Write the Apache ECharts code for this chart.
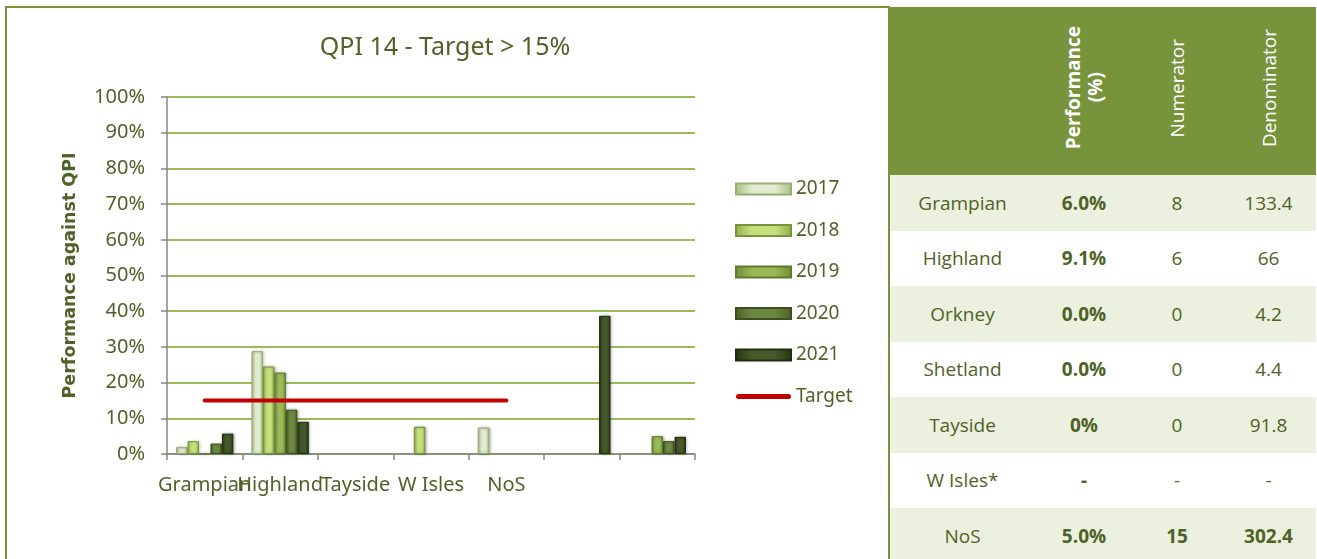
<!DOCTYPE html>
<html>
<head>
<meta charset="utf-8">
<script src="https://cdn.jsdelivr.net/npm/echarts@6/dist/echarts.min.js"></script>
<style>
  body { margin: 0; background: #fff; width: 1317px; height: 559px; overflow: hidden; position: relative; font-family: "Open Sans", sans-serif; }
  #frame { position: absolute; left: 5px; top: 6px; width: 885px; height: 570px; border: 2px solid #76923c; border-bottom: none; box-sizing: border-box; }
  #chart { position: absolute; left: 0; top: 0; width: 890px; height: 559px; }
  #qpi-table { position: absolute; left: 890px; top: 7px; width: 426px; border-collapse: collapse; table-layout: fixed; color: #4f6228; font-size: 19px; }
  #qpi-table th { background: #77933c; height: 168px; padding: 0; color: #fff; font-weight: normal; vertical-align: middle; }
  #qpi-table th .rot { writing-mode: vertical-rl; transform: rotate(180deg); display: inline-block; text-align: center; line-height: 22px; }
  #qpi-table th.bold .rot { font-weight: bold; }
  #qpi-table td { height: 55.5px; padding: 0; text-align: center; }
  #qpi-table tr:nth-child(odd) td { background: #ebf1de; }
  #qpi-table td.b { font-weight: bold; }
</style>
</head>
<body>
<div id="frame"></div>
<div id="chart"></div>
<table id="qpi-table">
  <colgroup><col style="width:145px"><col style="width:98px"><col style="width:88px"><col style="width:95px"></colgroup>
  <thead><tr>
    <th></th>
    <th class="bold"><span class="rot">Performance<br>(%)</span></th>
    <th><span class="rot">Numerator</span></th>
    <th><span class="rot">Denominator</span></th>
  </tr></thead>
  <tbody id="rows"></tbody>
</table>
<script>
// chart data (percent)
const categories = ["Grampian", "Highland", "Tayside", "W Isles", "NoS", " ", "  "];
const years = ["2017", "2018", "2019", "2020", "2021"];
const v2017 = [1.9, 28.8, null, null, 7.4, null, null];
const v2018 = [3.6, 24.5, null, 7.6, null, null, null];
const v2019 = [0, 22.8, null, null, null, null, 5.0];
const v2020 = [2.9, 12.4, null, null, null, null, 3.6];
const v2021 = [5.7, 9.0, null, null, null, 38.7, 4.8];
const target = [15, 15, 15, 15, 15, null, null];

// table data
const regions = ["Grampian", "Highland", "Orkney", "Shetland", "Tayside", "W Isles*", "NoS"];
const performance = ["6.0%", "9.1%", "0.0%", "0.0%", "0%", "-", "5.0%"];
const numerators = ["8", "6", "0", "0", "0", "-", "15"];
const denominators = ["133.4", "66", "4.2", "4.4", "91.8", "-", "302.4"];

// edge / middle / border shades for the bevelled bars
const barShades = [
  ["#a9bf83", "#e2ecd0", "#98ad72"],
  ["#8fb045", "#c6e07d", "#77933c"],
  ["#6f8c35", "#9ab957", "#5f7a2c"],
  ["#4a5f25", "#6d8840", "#3d4f1e"],
  ["#2a3614", "#46592a", "#222c10"]
];
const yearValues = [v2017, v2018, v2019, v2020, v2021];

const tbody = document.getElementById("rows");
regions.forEach((r, i) => {
  const last = r === "NoS";
  const tr = document.createElement("tr");
  tr.innerHTML = "<td>" + r + "</td><td class='b'>" + performance[i] + "</td>" +
    "<td" + (last ? " class='b'" : "") + ">" + numerators[i] + "</td>" +
    "<td" + (last ? " class='b'" : "") + ">" + denominators[i] + "</td>";
  tbody.appendChild(tr);
});

const txt = "#4f6228";
const font = "Noto Sans";

const barSeries = years.map((y, i) => ({
  name: y,
  type: "bar",
  data: yearValues[i],
  barGap: "0%",
  barCategoryGap: "24%",
  itemStyle: {
    color: new echarts.graphic.LinearGradient(0, 0, 1, 0, [
      { offset: 0, color: barShades[i][0] },
      { offset: 0.3, color: barShades[i][1] },
      { offset: 0.7, color: barShades[i][1] },
      { offset: 1, color: barShades[i][0] }
    ]),
    borderColor: barShades[i][2],
    borderWidth: 1,
    shadowColor: "rgba(0,0,0,0.3)",
    shadowBlur: 3,
    shadowOffsetX: 1
  }
}));

const option = {
  animation: false,
  title: {
    text: "QPI 14 - Target > 15%",
    left: "center",
    top: 30,
    textStyle: { fontFamily: font, fontSize: 25, fontWeight: "normal", color: txt }
  },
  legend: {
    orient: "vertical",
    left: 735,
    top: 179,
    itemWidth: 55,
    itemHeight: 11,
    itemGap: 21.5,
    padding: 0,
    symbolKeepAspect: true,
    textStyle: { fontFamily: font, fontSize: 19, color: txt, lineHeight: 20 },
    data: years.map((y) => ({ name: y, icon: "rect" })).concat([{
      name: "Target",
      icon: "path://M2.5,0 L52.5,0 A2.5,2.5 0 0 1 52.5,5 L2.5,5 A2.5,2.5 0 0 1 2.5,0 Z",
      itemStyle: { color: "#c00000" }
    }])
  },
  grid: { left: 167, right: 195, top: 97, bottom: 105 },
  xAxis: {
    type: "category",
    data: categories,
    axisLine: { lineStyle: { color: "#868686", width: 1.5 } },
    axisTick: { show: true, length: 6, lineStyle: { color: "#868686", width: 1.5 } },
    axisLabel: { interval: 0, margin: 21, fontFamily: font, fontSize: 20, color: txt }
  },
  yAxis: {
    type: "value",
    min: 0,
    max: 100,
    interval: 10,
    name: "Performance against QPI",
    nameLocation: "middle",
    nameGap: 88,
    nameTextStyle: { fontFamily: "DejaVu Sans", fontWeight: "bold", fontSize: 17.5, color: txt },
    axisLine: { show: true, lineStyle: { color: "#868686", width: 1.5 } },
    axisTick: { show: true, length: 6, lineStyle: { color: "#868686", width: 1.5 } },
    axisLabel: { formatter: "{value}%", margin: 22, fontFamily: font, fontSize: 20, color: txt },
    splitLine: { lineStyle: { color: "#9bbb59", width: 2 } }
  },
  series: barSeries.concat([
    {
      name: "Target",
      type: "line",
      data: target,
      symbol: "none",
      z: 5,
      lineStyle: { color: "#c00000", width: 4, cap: "round" },
      itemStyle: { color: "#c00000" }
    }
  ])
};

const myChart = echarts.init(document.getElementById("chart"));
myChart.setOption(option);
</script>
</body>
</html>
